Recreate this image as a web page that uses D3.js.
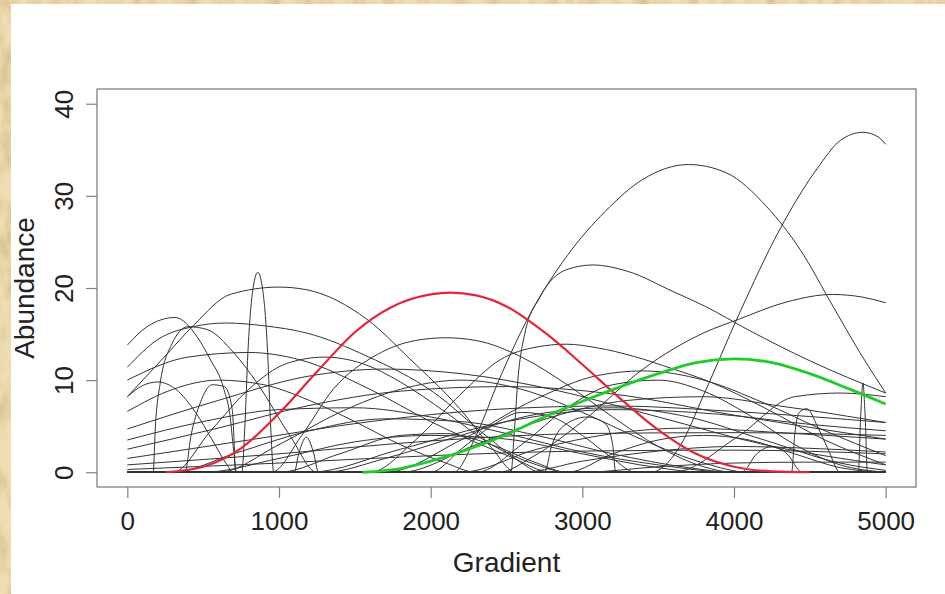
<!DOCTYPE html>
<html>
<head>
<meta charset="utf-8">
<script src="https://cdn.jsdelivr.net/npm/d3@7/dist/d3.min.js"></script>
<style>
  html, body { margin: 0; padding: 0; background: #eedcb3; }
  svg { display: block; }
  text { font-family: "Liberation Sans", Arial, sans-serif; fill: #222; }
</style>
</head>
<body>
<div id="chart"></div>
<script>
// tick labels
const xTicks = [0, 1000, 2000, 3000, 4000, 5000];
const yTicks = [0, 10, 20, 30, 40];

// highlighted species
const redCurve = [[250,0],[500,0.6],[750,2.6],[1000,6.4],[1250,10.9],[1500,15.2],[1750,18],[2000,19.3],[2130,19.5],[2300,19.2],[2500,18],[2750,15.2],[3000,11.7],[3250,8],[3500,4.6],[3750,2],[4000,0.6],[4250,0.1],[4500,0]];
const greenCurve = [[1550,0],[1800,0.4],[2000,1.2],[2250,2.5],[2500,4.1],[2750,6],[3000,7.7],[3205,9],[3500,10.7],[3750,11.9],[4000,12.3],[4250,11.9],[4500,10.7],[4750,9.1],[5000,7.4]];

// the other species (gradient, abundance)
const blackCurves = [
  [[0,0],[2150,0],[2300,4],[2450,10],[2650,17],[2900,23.5],[3150,28.3],[3400,31.8],[3700,33.4],[3950,32.5],[4217,28.8],[4435,24.2],[4653,18],[4830,13],[5000,8.6]],
  [[0,0],[3450,0],[3650,3],[3795,8.2],[4037,17.3],[4300,26.3],[4550,33],[4700,36],[4850,36.9],[4950,36.4],[5000,35.6]],
  [[0,0],[2530,0],[2550,4],[2575,10],[2620,15],[2720,19],[2898,22],[3070,22.5],[3300,21.8],[3600,19.6],[3811,18],[4100,15.4],[4500,12.1],[5000,8.6]],
  [[0,0],[2450,0],[2675,1.7],[3000,5.5],[3400,11.2],[3810,15.2],[4030,16.6],[4350,18.5],[4650,19.3],[4850,19],[5000,18.4]],
  [[0,8.2],[243,12.5],[440,16],[678,19.3],[1000,20.1],[1185,19.8],[1580,16.6],[1863,12.3],[2192,6.9],[2400,2.7],[2560,0],[5000,0]],
  [[0,0],[755,0],[775,5],[795,13],[825,19.5],[860,21.7],[895,19.5],[925,13],[945,5],[965,0],[5000,0]],
  [[0,13.8],[130,15.8],[315,16.8],[460,14.7],[545,12.3],[637,9],[678,6],[700,2.5],[720,0],[5000,0]],
  [[0,11.4],[200,14.4],[434,15.8],[650,16.2],[900,15.9],[1185,15.1],[1580,12.6],[2017,8.7],[2370,3.9],[2600,1],[2720,0],[5000,0]],
  [[0,0],[950,0],[1150,4],[1357,9],[1650,12.8],[1900,14.3],[2100,14.6],[2300,14.3],[2600,12.5],[2900,9.5],[3200,6],[3500,2.8],[3800,0.6],[4000,0],[5000,0]],
  [[0,0],[1600,0],[1900,3.5],[2200,8.5],[2457,12.2],[2700,13.6],[2898,13.9],[3100,13.5],[3335,12.6],[3600,11.2],[3843,9.8],[4200,7],[4600,3.5],[5000,0.8]],
  [[0,8.2],[100,9.4],[200,9.8],[320,9],[450,6.5],[560,3.5],[650,1],[700,0],[5000,0]],
  [[0,0],[170,0],[185,5],[215,9.5],[290,13.8],[400,15.8],[525,15.5],[700,13],[855,9.7],[1075,3.9],[1250,0],[5000,0]],
  [[0,6.6],[300,9],[600,10],[900,9.5],[1200,7.8],[1500,5.5],[1800,3],[2100,1],[2300,0],[5000,0]],
  [[0,4.7],[600,7.8],[1185,10.4],[1700,11.2],[2200,10.7],[2800,9],[3500,6],[4200,3],[5000,0.8]],
  [[0,2.5],[600,4.8],[1185,7.2],[1800,8.8],[2500,9.3],[3200,8.5],[4000,6.2],[5000,3.6]],
  [[0,1.5],[800,3.5],[1600,5.5],[2400,6.8],[3200,7.2],[4000,6.6],[5000,5.4]],
  [[0,0.8],[1000,2],[2000,3.4],[3000,4.2],[4000,4.3],[5000,4]],
  [[0,0.3],[1000,1],[2000,1.8],[3000,2.3],[4000,2.4],[5000,2]],
  [[0,0],[1800,0],[2300,3],[2800,6],[3300,7.8],[3800,8.2],[4300,7.2],[5000,5.4]],
  [[0,0],[1200,0],[1800,2.5],[2500,5.5],[3200,6.8],[3900,6.3],[4500,5.2],[5000,4.5]],
  [[0,0],[2200,0],[2700,2.5],[3200,4.2],[3700,4.8],[4300,4.3],[5000,3.6]],
  [[0,0],[2600,0],[3000,1.2],[3500,2.3],[4000,2.8],[4500,2.6],[5000,2.2]],
  [[0,0],[3000,0],[3500,0.6],[4000,1],[4500,1.1],[5000,1.1]],
  [[0,0],[4380,0],[4400,4],[4430,6.5],[4480,6.9],[4550,5],[4620,2.5],[4700,0],[5000,0]],
  [[0,0],[4820,0],[4835,6],[4850,9.7],[4865,6],[4880,0],[5000,0]],
  [[0,0],[3600,0],[4027,3.9],[4400,8.2],[4700,8.6],[5000,8.2]],
  [[0,0],[4050,0],[4150,2],[4250,2.8],[4350,2],[4450,0],[5000,0]],
  [[0,0],[2750,0],[2800,3],[2900,5.3],[3030,6],[3150,5.3],[3200,3],[3220,0],[5000,0]],
  [[0,0],[300,0],[700,2],[1200,4.5],[1700,5.8],[2200,5.5],[2700,4],[3200,2],[3700,0.5],[4000,0],[5000,0]],
  [[0,0],[500,0],[1000,1.5],[1500,3.3],[2000,4],[2500,3.6],[3000,2],[3500,0.5],[3800,0],[5000,0]],
  [[0,0],[1000,0],[1400,2],[1800,4],[2100,4.2],[2400,3],[2700,1],[2900,0],[5000,0]],
  [[0,0],[1100,0],[1130,2],[1180,3.8],[1230,2],[1260,0],[5000,0]],
  [[0,0],[380,0],[420,4],[480,7.5],[560,9.5],[640,9.3],[690,7],[705,3],[712,0],[5000,0]],
  [[0,0],[300,0],[550,4.5],[800,9],[1050,11.8],[1300,12.5],[1550,11.8],[1800,9.8],[2100,6.5],[2400,3],[2700,0.8],[2900,0],[5000,0]],
  [[0,0],[2000,0],[2200,2.5],[2400,5],[2600,6.5],[2800,6],[3000,4],[3200,1.5],[3350,0],[5000,0]],
  [[0,10],[400,12.5],[800,13],[1139,12.2],[1600,9],[2000,5.5],[2523,1.7],[2800,0],[5000,0]],
  [[0,0],[1700,0],[2200,3.5],[2700,8],[3100,10.5],[3400,11],[3800,10],[4200,7.5],[4600,4.5],[5000,1.8]],
  [[0,0],[2900,0],[3200,2],[3500,3.5],[3800,4],[4100,3.5],[4400,2],[4700,0.5],[5000,0]],
  [[0,0],[600,0],[1000,3],[1400,6.5],[1800,9],[2200,10],[2600,9],[3000,6.5],[3400,3.5],[3800,1],[4100,0],[5000,0]],
  [[0,3.5],[500,5.5],[1000,6.8],[1500,7],[2000,6],[2500,4.2],[3000,2.2],[3500,0.8],[4000,0],[5000,0]],
  [[0,0],[1300,0],[1700,1.5],[2200,4],[2700,6.3],[3200,7],[3700,6],[4200,3.5],[4700,1],[5000,0.2]],
  [[0,0],[2300,0],[2600,3],[2900,7],[3200,9.5],[3500,10],[3800,8.8],[4100,6.2],[4400,3],[4700,0.8],[5000,0]]
];

const W = 945, H = 594;
const box = { left: 97, right: 916, top: 89, bottom: 487 };

const svg = d3.select("#chart").append("svg")
  .attr("width", W)
  .attr("height", H);

// parchment backdrop
const defs = svg.append("defs");
const f = defs.append("filter").attr("id", "parch")
  .attr("x", 0).attr("y", 0).attr("width", "100%").attr("height", "100%");
f.append("feTurbulence").attr("type", "fractalNoise")
  .attr("baseFrequency", "0.06 0.03").attr("numOctaves", 4).attr("seed", 7);
f.append("feColorMatrix").attr("type", "matrix")
  .attr("values", "0 0 0 0 0.62  0 0 0 0 0.48  0 0 0 0 0.24  1.8 0 0 0 -0.75");

svg.append("rect").attr("width", W).attr("height", H).attr("fill", "#efdcb2");
svg.append("rect").attr("width", W).attr("height", H).attr("filter", "url(#parch)");
svg.append("rect").attr("x", 11).attr("y", 4).attr("width", W - 11).attr("height", H - 4).attr("fill", "#fff");

const x = d3.scaleLinear().domain([-200, 5200]).range([box.left, box.right]);
const y = d3.scaleLinear().domain([-1.6, 41.6]).range([box.bottom, box.top]);

const line = d3.line()
  .x(d => x(d[0]))
  .y(d => y(d[1]))
  .curve(d3.curveMonotoneX);

const plot = svg.append("g");

plot.selectAll("path.sp")
  .data(blackCurves)
  .enter()
  .append("path")
  .attr("class", "sp")
  .attr("d", line)
  .attr("fill", "none")
  .attr("stroke", "#333")
  .attr("stroke-width", 1);

plot.append("path")
  .datum(redCurve)
  .attr("d", line)
  .attr("fill", "none")
  .attr("stroke", "#e0283a")
  .attr("stroke-width", 2.2);

plot.append("path")
  .datum(greenCurve)
  .attr("d", line)
  .attr("fill", "none")
  .attr("stroke", "#1fcc2c")
  .attr("stroke-width", 2.8);

// box
svg.append("rect")
  .attr("x", box.left).attr("y", box.top)
  .attr("width", box.right - box.left)
  .attr("height", box.bottom - box.top)
  .attr("fill", "none")
  .attr("stroke", "#808080")
  .attr("stroke-width", 1.3);

// axes
const xAxis = svg.append("g")
  .attr("transform", `translate(0,${box.bottom})`)
  .call(d3.axisBottom(x).tickValues(xTicks).tickSize(11).tickPadding(14).tickFormat(d3.format("d")));
xAxis.select(".domain").remove();
xAxis.selectAll("line").attr("stroke", "#808080").attr("stroke-width", 1.2);
xAxis.selectAll("text").style("font-size", "26px").attr("fill", "#222");

const yAxis = svg.append("g")
  .attr("transform", `translate(${box.left},0)`)
  .call(d3.axisLeft(y).tickValues(yTicks).tickSize(11));
yAxis.select(".domain").remove();
yAxis.selectAll("line").attr("stroke", "#808080").attr("stroke-width", 1.2);
yAxis.selectAll("text")
  .attr("x", 0).attr("dy", 0)
  .attr("transform", "translate(-24,0) rotate(-90)")
  .attr("text-anchor", "middle")
  .style("font-size", "26px").attr("fill", "#222");

svg.append("text")
  .attr("x", (box.left + box.right) / 2)
  .attr("y", 572)
  .attr("text-anchor", "middle")
  .style("font-size", "28px")
  .text("Gradient");

svg.append("text")
  .attr("transform", `translate(34,${(box.top + box.bottom) / 2}) rotate(-90)`)
  .attr("text-anchor", "middle")
  .style("font-size", "28px")
  .text("Abundance");
</script>
</body>
</html>
